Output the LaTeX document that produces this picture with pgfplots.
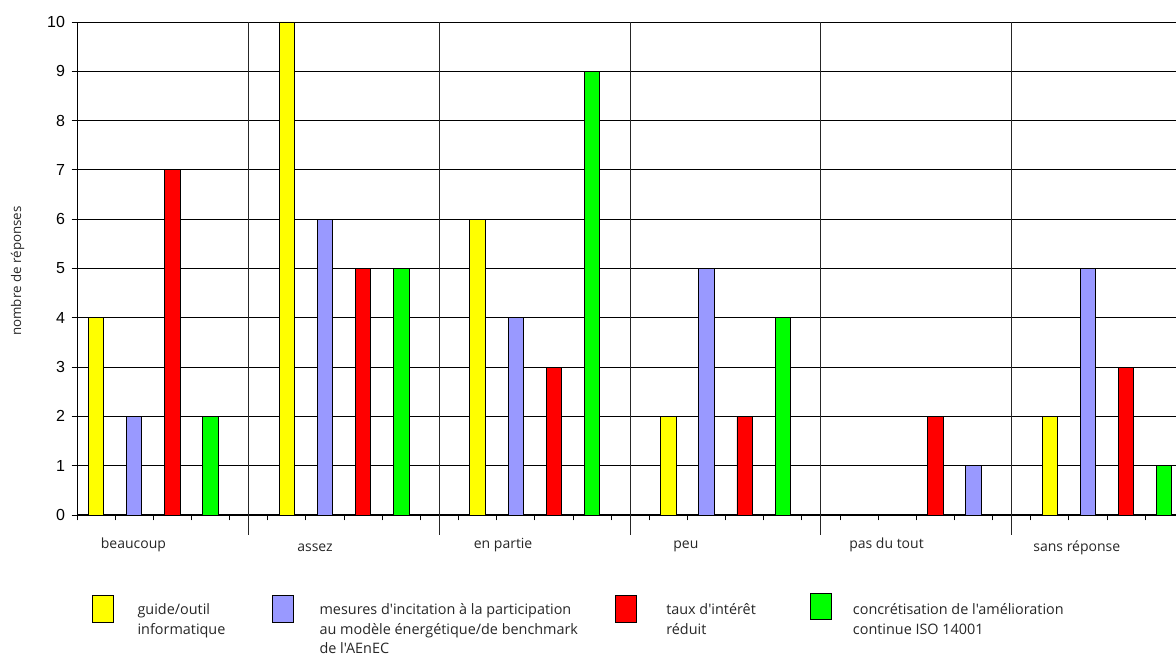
\documentclass[border=0pt]{standalone}
\usepackage{pgfplots}
\pgfplotsset{compat=1.18}
\usepackage{pgfplotstable}
\usepackage{fontspec}
\newfontfamily\osf{Open Sans}
\newfontfamily\arialfont{Liberation Sans}
\definecolor{xyellow}{HTML}{FFFF00}
\definecolor{xblue}{HTML}{9999FF}
\definecolor{xred}{HTML}{FF0000}
\definecolor{xgreen}{HTML}{00FF00}

% slot = 5*group + series position
\pgfplotstableread{
x y
0 4
5 10
10 6
15 2
25 2
}\yellowdata
\pgfplotstableread{
x y
1 2
6 6
11 4
16 5
23 1
26 5
}\bluedata
\pgfplotstableread{
x y
2 7
7 5
12 3
17 2
22 2
27 3
}\reddata
\pgfplotstableread{
x y
3 2
8 5
13 9
18 4
28 1
}\greendata

\begin{document}
\begin{tikzpicture}
\path[use as bounding box] (0,0) rectangle (882pt,491.25pt);
\begin{axis}[
  at={(57.75pt,105pt)}, anchor=south west,
  scale only axis, width=824.25pt, height=369.75pt,
  xmin=-0.5, xmax=28.31, ymin=0, ymax=10,
  ytick={0,1,...,10},
  xtick={-0.5,0.5,...,27.5}, xticklabels={},
  tick align=outside, major tick length=4pt,
  tick style={black, line width=0.6pt},
  ymajorgrids,
  major grid style={black, line width=0.6pt},
  extra x ticks={4,9,14,19,24}, extra x tick labels={},
  extra x tick style={grid=major, major grid style={black!85, line width=0.9pt}, major tick length=15pt, tick style={black!85, line width=0.9pt}},
  axis x line*=bottom, axis y line*=left,
  axis line style={-, black, line width=0.75pt},
  /pgf/number format/assume math mode=true,
  yticklabel style={font=\arialfont\fontsize{12}{14}\selectfont, xshift=-1.5pt},
  clip=false,
  mybar/.style={ybar, bar width=11.5pt, bar shift=0pt, draw=black, line width=0.6pt},
]
\addplot[mybar, fill=xyellow] table[x=x,y=y] {\yellowdata};
\addplot[mybar, fill=xblue] table[x=x,y=y] {\bluedata};
\addplot[mybar, fill=xred] table[x=x,y=y] {\reddata};
\addplot[mybar, fill=xgreen] table[x=x,y=y] {\greendata};

\begin{scope}[every node/.style={font=\osf\fontsize{10.5}{13}\selectfont, anchor=base, text=black!85}]
\node at (axis cs:0.98,0) [yshift=-25.2pt] {beaucoup};
\node at (axis cs:5.74,0) [yshift=-27.7pt] {assez};
\node at (axis cs:10.67,0) [yshift=-25.2pt] {en partie};
\node at (axis cs:15.46,0) [yshift=-25.2pt] {peu};
\node at (axis cs:20.72,0) [yshift=-25.2pt] {pas du tout};
\node at (axis cs:25.71,0) [yshift=-27.7pt] {sans réponse};
\end{scope}
\end{axis}

% y label
\node[rotate=90, anchor=base, font=\osf\fontsize{10}{12}\selectfont, text=black!85] at (15.75pt,288pt) {nombre de réponses};

% legend
\filldraw[fill=xyellow, draw=black, line width=0.7pt] (69.5pt,24.5pt) rectangle (85pt,44.5pt);
\filldraw[fill=xblue, draw=black, line width=0.7pt] (204.5pt,24.5pt) rectangle (220pt,44.5pt);
\filldraw[fill=xred, draw=black, line width=0.7pt] (461.25pt,24.5pt) rectangle (477.5pt,44.5pt);
\filldraw[fill=xgreen, draw=black, line width=0.7pt] (608pt,26.5pt) rectangle (623.5pt,46.25pt);
\begin{scope}[every node/.style={anchor=base west, font=\osf\fontsize{10.8}{14}\selectfont, inner sep=0pt, text=black!85}]
\node at (103pt,30pt) {guide/outil};
\node at (103pt,15.4pt) {informatique};
\node at (239.5pt,30pt) {mesures d'incitation à la participation};
\node at (239.5pt,15.4pt) {au modèle énergétique/de benchmark};
\node at (239.5pt,0.9pt) {de l'AEnEC};
\node at (499.5pt,30pt) {taux d'intérêt};
\node at (499.5pt,15.4pt) {réduit};
\node at (639.5pt,30pt) {concrétisation de l'amélioration};
\node at (639.5pt,15.4pt) {continue ISO 14001};
\end{scope}
\end{tikzpicture}
\end{document}
